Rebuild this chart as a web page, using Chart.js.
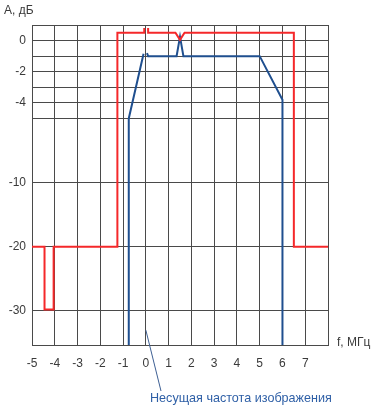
<!DOCTYPE html>
<html>
<head>
<meta charset="utf-8">
<script src="https://cdn.jsdelivr.net/npm/chart.js@4/dist/chart.umd.min.js"></script>
<style>
    html, body { margin: 0; padding: 0; background: #fff; }
    #wrap { width: 381px; height: 419px; position: relative; }
</style>
</head>
<body>
<div id="wrap"><canvas id="chart"></canvas></div>
<script>
// Frequency axis, MHz
const X_MIN = -5;
const X_MAX = 8;
const X_LABEL_MAX = 7;

// Level axis, dB (non-uniform scale)
const Y_MIN = -35.3;
const Y_MAX = 1;
const Y_TICKS = [1, 0, -1, -2, -3, -4, -5, -10, -20, -30];
const Y_LABELS = [0, -2, -4, -10, -20, -30];

// Red curve (null = gap at carrier)
const RED_F  = [-5, -4.45, -4.45, -4.05, -4.05, -1.25, -1.25, -0.07, -0.07, null, 0.1, 0.1, 1.3, 1.5, 1.7, 6.5, 6.5, 8];
const RED_DB = [-20, -20, -29.8, -29.8, -20, -20, 0.5, 0.5, 0.8, null, 0.8, 0.5, 0.5, 0.05, 0.5, 0.5, -20, -20];

// Blue curve
const BLUE_F  = [-0.75, -0.75, -0.1, null, 0.05, 0.1, 1.35, 1.5, 1.65, 5, 6, 6];
const BLUE_DB = [-36, -5, -0.85, null, -0.8, -1, -1, 0.25, -1, -1, -3.8, -36];

const CARRIER_F = 0;
const CARRIER_DB = -33;

const FONT = '"Liberation Sans", Arial, sans-serif';
const TEXT_COLOR = '#3a3a3a';
const GRID_COLOR = '#4a4a4a';

function toPoints(xs, ys) {
    return xs.map((x, i) => (x === null ? { x: NaN, y: null } : { x, y: ys[i] }));
}

// Scale breakpoints: dB value -> fraction of the plot height from the bottom
const BREAK_DB   = [-35.3, -30, -20, -10, -5, 1];
const BREAK_FRAC = [0, 0.107, 0.307, 0.508, 0.708, 1];

function interp(v, from, to) {
    let i = 0;
    while (i < from.length - 2 && v > from[i + 1]) i++;
    const t = (v - from[i]) / (from[i + 1] - from[i]);
    return to[i] + t * (to[i + 1] - to[i]);
}

class PiecewiseScale extends Chart.LinearScale {
    buildTicks() {
        this.start = this.min;
        this.end = this.max;
        return Y_TICKS.slice().sort((a, b) => a - b).map(v => ({ value: v }));
    }

    getPixelForValue(value) {
        if (value === null || isNaN(value)) return NaN;
        return this.getPixelForDecimal(interp(value, BREAK_DB, BREAK_FRAC));
    }

    getValueForPixel(pixel) {
        return interp(this.getDecimalForPixel(pixel), BREAK_FRAC, BREAK_DB);
    }
}
PiecewiseScale.id = 'piecewise';
PiecewiseScale.defaults = Chart.LinearScale.defaults;
Chart.register(PiecewiseScale);

// Axis titles and the carrier note
const labelsPlugin = {
    id: 'labels',
    afterDraw(chart) {
        const { ctx, scales } = chart;
        ctx.save();
        ctx.font = '12px ' + FONT;
        ctx.textBaseline = 'middle';
        ctx.fillStyle = TEXT_COLOR;
        ctx.textAlign = 'left';
        ctx.fillText('A, дБ', 4, 11);
        ctx.fillText('f, МГц', 337, 343);

        // pointer to the picture carrier
        const px = scales.x.getPixelForValue(CARRIER_F);
        const py = scales.y.getPixelForValue(CARRIER_DB);
        ctx.strokeStyle = '#3d5f93';
        ctx.lineWidth = 1;
        ctx.beginPath();
        ctx.moveTo(px, py);
        ctx.lineTo(161, 391);
        ctx.stroke();

        ctx.font = '12.6px ' + FONT;
        ctx.fillStyle = '#2e5fa6';
        ctx.fillText('Несущая частота изображения', 150, 399);
        ctx.restore();
    }
};

const ctx = document.getElementById('chart').getContext('2d');
new Chart(ctx, {
    type: 'line',
    data: {
        datasets: [
            {
                data: toPoints(RED_F, RED_DB),
                borderColor: '#f5282a',
                borderWidth: 2,
                pointRadius: 0,
                spanGaps: false,
                tension: 0,
            },
            {
                data: toPoints(BLUE_F, BLUE_DB),
                borderColor: '#1f4f8f',
                borderWidth: 2,
                pointRadius: 0,
                spanGaps: false,
                tension: 0,
            },
        ],
    },
    options: {
        responsive: true,
        maintainAspectRatio: false,
        animation: false,
        layout: { padding: { top: 25, right: 53, left: 0, bottom: 0 } },
        plugins: {
            legend: { display: false },
            tooltip: { enabled: false },
        },
        scales: {
            x: {
                type: 'linear',
                min: X_MIN,
                max: X_MAX,
                afterFit: (scale) => { scale.height = 74; },
                ticks: {
                    stepSize: 1,
                    autoSkip: false,
                    maxRotation: 0,
                    padding: 11,
                    color: TEXT_COLOR,
                    font: { family: FONT, size: 12 },
                    callback: (v) => (v <= X_LABEL_MAX ? String(v) : ''),
                },
                grid: { color: GRID_COLOR, lineWidth: 1, drawTicks: false },
                border: { color: GRID_COLOR, width: 1 },
            },
            y: {
                type: 'piecewise',
                min: Y_MIN,
                max: Y_MAX,
                afterFit: (scale) => { scale.width = 32; },
                ticks: {
                    autoSkip: false,
                    padding: 6,
                    color: TEXT_COLOR,
                    font: { family: FONT, size: 12 },
                    callback: (v) => (Y_LABELS.includes(v) ? String(v) : ''),
                },
                grid: { color: GRID_COLOR, lineWidth: 1, drawTicks: false },
                border: { color: GRID_COLOR, width: 1 },
            },
        },
    },
    plugins: [labelsPlugin],
});
</script>
</body>
</html>
